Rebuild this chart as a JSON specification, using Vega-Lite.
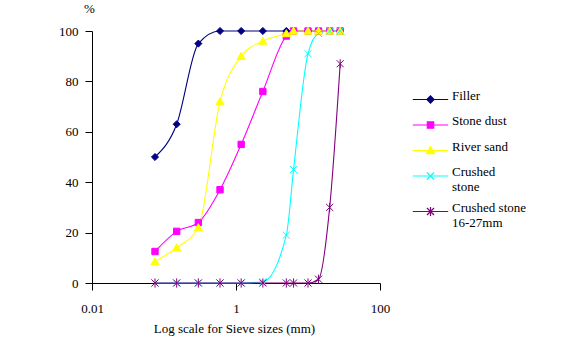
{
  "$schema": "https://vega.github.io/schema/vega-lite/v6.json",
  "width": 288,
  "height": 252,
  "autosize": {"type": "none"},
  "padding": {"left": 92, "top": 31, "right": 196, "bottom": 81},
  "background": "white",
  "data": {"values": [
    {"size": 0.075, "pct": 50, "series": "Filler"},
    {"size": 0.15, "pct": 63, "series": "Filler"},
    {"size": 0.3, "pct": 95, "series": "Filler"},
    {"size": 0.6, "pct": 100, "series": "Filler"},
    {"size": 1.18, "pct": 100, "series": "Filler"},
    {"size": 2.36, "pct": 100, "series": "Filler"},
    {"size": 5, "pct": 100, "series": "Filler"},
    {"size": 6.3, "pct": 100, "series": "Filler"},
    {"size": 10, "pct": 100, "series": "Filler"},
    {"size": 14, "pct": 100, "series": "Filler"},
    {"size": 20, "pct": 100, "series": "Filler"},
    {"size": 28, "pct": 100, "series": "Filler"},
    {"size": 0.075, "pct": 12.5, "series": "Stone dust"},
    {"size": 0.15, "pct": 20.5, "series": "Stone dust"},
    {"size": 0.3, "pct": 24, "series": "Stone dust"},
    {"size": 0.6, "pct": 37, "series": "Stone dust"},
    {"size": 1.18, "pct": 55, "series": "Stone dust"},
    {"size": 2.36, "pct": 76, "series": "Stone dust"},
    {"size": 5, "pct": 98, "series": "Stone dust"},
    {"size": 6.3, "pct": 100, "series": "Stone dust"},
    {"size": 10, "pct": 100, "series": "Stone dust"},
    {"size": 14, "pct": 100, "series": "Stone dust"},
    {"size": 20, "pct": 100, "series": "Stone dust"},
    {"size": 28, "pct": 100, "series": "Stone dust"},
    {"size": 0.075, "pct": 8.5, "series": "River sand"},
    {"size": 0.15, "pct": 14, "series": "River sand"},
    {"size": 0.3, "pct": 22, "series": "River sand"},
    {"size": 0.6, "pct": 72, "series": "River sand"},
    {"size": 1.18, "pct": 90, "series": "River sand"},
    {"size": 2.36, "pct": 96, "series": "River sand"},
    {"size": 5, "pct": 99, "series": "River sand"},
    {"size": 6.3, "pct": 100, "series": "River sand"},
    {"size": 10, "pct": 100, "series": "River sand"},
    {"size": 14, "pct": 100, "series": "River sand"},
    {"size": 20, "pct": 100, "series": "River sand"},
    {"size": 28, "pct": 100, "series": "River sand"},
    {"size": 0.075, "pct": 0, "series": "Crushed stone"},
    {"size": 0.15, "pct": 0, "series": "Crushed stone"},
    {"size": 0.3, "pct": 0, "series": "Crushed stone"},
    {"size": 0.6, "pct": 0, "series": "Crushed stone"},
    {"size": 1.18, "pct": 0, "series": "Crushed stone"},
    {"size": 2.36, "pct": 0.5, "series": "Crushed stone"},
    {"size": 5, "pct": 19, "series": "Crushed stone"},
    {"size": 6.3, "pct": 45, "series": "Crushed stone"},
    {"size": 10, "pct": 91, "series": "Crushed stone"},
    {"size": 14, "pct": 99, "series": "Crushed stone"},
    {"size": 20, "pct": 100, "series": "Crushed stone"},
    {"size": 28, "pct": 100, "series": "Crushed stone"},
    {"size": 0.075, "pct": 0, "series": "Crushed stone 16-27mm"},
    {"size": 0.15, "pct": 0, "series": "Crushed stone 16-27mm"},
    {"size": 0.3, "pct": 0, "series": "Crushed stone 16-27mm"},
    {"size": 0.6, "pct": 0, "series": "Crushed stone 16-27mm"},
    {"size": 1.18, "pct": 0, "series": "Crushed stone 16-27mm"},
    {"size": 2.36, "pct": 0, "series": "Crushed stone 16-27mm"},
    {"size": 5, "pct": 0, "series": "Crushed stone 16-27mm"},
    {"size": 6.3, "pct": 0, "series": "Crushed stone 16-27mm"},
    {"size": 10, "pct": 0, "series": "Crushed stone 16-27mm"},
    {"size": 14, "pct": 1.5, "series": "Crushed stone 16-27mm"},
    {"size": 20, "pct": 30, "series": "Crushed stone 16-27mm"},
    {"size": 28, "pct": 87, "series": "Crushed stone 16-27mm"}
  ]},
  "encoding": {
    "x": {"field": "size", "type": "quantitative",
      "scale": {"type": "log", "domain": [0.01, 100], "nice": false},
      "axis": {"title": "Log scale for Sieve sizes (mm)", "values": [0.01, 1, 100], "format": "~g",
        "tickSize": 7, "labelPadding": 18, "labelBaseline": "middle", "labelFlush": false,
        "titleY": 45, "titleX": 142, "titleBaseline": "middle", "grid": false}},
    "y": {"field": "pct", "type": "quantitative",
      "scale": {"domain": [0, 100], "nice": false},
      "axis": {"title": "%", "titleAngle": 0, "titleX": -3, "titleY": -23, "titleAlign": "center",
        "titleBaseline": "middle", "values": [0, 20, 40, 60, 80, 100], "tickSize": 7,
        "labelPadding": 7, "grid": false}}
  },
  "layer": [
    {
      "mark": {"type": "line", "interpolate": "monotone", "strokeWidth": 1.1},
      "encoding": {
        "color": {"field": "series", "type": "nominal",
          "scale": {"domain": ["Filler", "Stone dust", "River sand", "Crushed stone", "Crushed stone 16-27mm"],
            "range": ["#000080", "#FF00FF", "#FFFF00", "#00FFFF", "#800080"]},
          "legend": {"orient": "none", "legendX": 332, "legendY": 62, "title": null,
            "symbolType": "M-5,0H5M0,-1.45M0,1.45", "symbolSize": 50, "symbolStrokeWidth": 1.2,
            "labelExpr": "datum.label == 'Crushed stone' ? ['Crushed', 'stone'] : datum.label == 'Crushed stone 16-27mm' ? ['Crushed stone', '16-27mm'] : datum.label",
            "labelBaseline": "alphabetic", "rowPadding": 6.5, "labelOffset": 15, "padding": 0}}
      }
    },
    {
      "mark": {"type": "point", "size": 50, "strokeWidth": 1, "opacity": 1},
      "encoding": {
        "fill": {"field": "series", "type": "nominal",
          "scale": {"domain": ["Filler", "Stone dust", "River sand", "Crushed stone", "Crushed stone 16-27mm"],
            "range": ["#000080", "#FF00FF", "#FFFF00", "#00FFFF", "#800080"]},
          "legend": {"orient": "none", "legendX": 332, "legendY": 62, "title": null, "symbolSize": 50,
            "symbolStrokeWidth": 1.2, "labelOpacity": 0,
            "labelExpr": "datum.label == 'Crushed stone' ? ['Crushed', 'stone'] : datum.label == 'Crushed stone 16-27mm' ? ['Crushed stone', '16-27mm'] : datum.label",
            "labelBaseline": "alphabetic", "rowPadding": 6.5, "labelOffset": 15, "padding": 0}},
        "stroke": {"field": "series", "type": "nominal",
          "scale": {"domain": ["Filler", "Stone dust", "River sand", "Crushed stone", "Crushed stone 16-27mm"],
            "range": ["#000080", "#FF00FF", "#FFFF00", "#00FFFF", "#800080"]},
          "legend": {"orient": "none", "legendX": 332, "legendY": 62, "title": null, "symbolSize": 50,
            "symbolStrokeWidth": 1.2, "labelOpacity": 0,
            "labelExpr": "datum.label == 'Crushed stone' ? ['Crushed', 'stone'] : datum.label == 'Crushed stone 16-27mm' ? ['Crushed stone', '16-27mm'] : datum.label",
            "labelBaseline": "alphabetic", "rowPadding": 6.5, "labelOffset": 15, "padding": 0}},
        "shape": {"field": "series", "type": "nominal",
          "scale": {"domain": ["Filler", "Stone dust", "River sand", "Crushed stone", "Crushed stone 16-27mm"],
            "range": ["M-1,0L0,-1L1,0L0,1ZM0,-1.45M0,1.45", "M-0.9,-0.9H0.9V0.9H-0.9ZM0,-1.45M0,1.45", "M0,-1.1L1.15,0.9H-1.15ZM0,-1.45M0,1.45", "M-1,-1L1,1M-1,1L1,-1M0,-1.45M0,1.45", "M-1,-1L1,1M-1,1L1,-1M0,-1.3L0,1.3M0,-1.45M0,1.45"]},
          "legend": {"orient": "none", "legendX": 332, "legendY": 62, "title": null, "symbolSize": 50,
            "symbolStrokeWidth": 1.2, "labelOpacity": 0,
            "labelExpr": "datum.label == 'Crushed stone' ? ['Crushed', 'stone'] : datum.label == 'Crushed stone 16-27mm' ? ['Crushed stone', '16-27mm'] : datum.label",
            "labelBaseline": "alphabetic", "rowPadding": 6.5, "labelOffset": 15, "padding": 0}}
      }
    }
  ],
  "resolve": {"legend": {"color": "independent"}},
  "config": {
    "font": "Liberation Serif",
    "view": {"stroke": null},
    "axis": {"labelFont": "Liberation Serif", "labelFontSize": 13, "labelColor": "black",
      "titleFont": "Liberation Serif", "titleFontSize": 13, "titleFontWeight": "normal", "titleColor": "black",
      "domainColor": "black", "tickColor": "black", "domainWidth": 1, "tickWidth": 1},
    "legend": {"labelFont": "Liberation Serif", "labelFontSize": 13, "labelColor": "black", "labelLimit": 200}
  }
}
